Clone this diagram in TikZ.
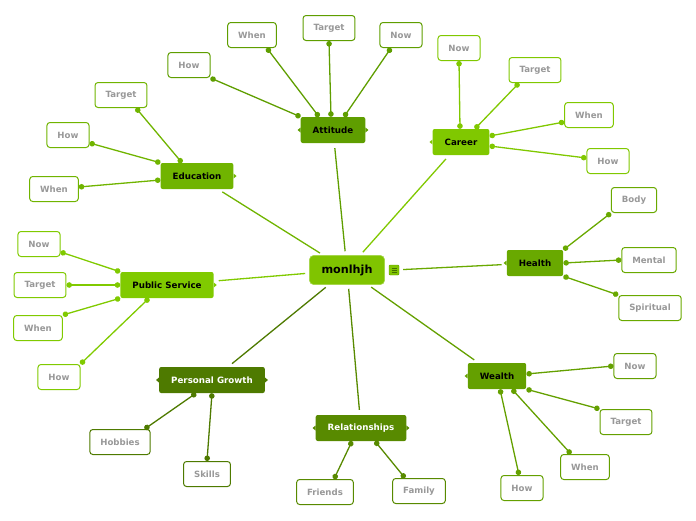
\documentclass[tikz,border=0pt]{standalone}
\usepackage{fontspec}
\setmainfont{DejaVu Sans}
\usepackage{tikz}
\usetikzlibrary{arrows.meta}

\definecolor{cmain}{HTML}{80C400}
\definecolor{catt}{HTML}{5F9E00}
\definecolor{ccar}{HTML}{80C800}
\definecolor{cedu}{HTML}{70B400}
\definecolor{cpub}{HTML}{80CA00}
\definecolor{chea}{HTML}{69A900}
\definecolor{cwea}{HTML}{64A000}
\definecolor{cpgr}{HTML}{4E7A00}
\definecolor{crel}{HTML}{588A00}
\definecolor{leafgrey}{HTML}{989898}

\tikzset{
  leaf/.style={draw=#1, line width=1pt, fill=white, rounded corners=3pt, text=leafgrey,
    font=\bfseries\fontsize{8.6}{10}\selectfont, inner xsep=10.5pt, inner ysep=0pt, minimum height=25pt},
  topic/.style={fill=#1, rounded corners=2pt, font=\bfseries\fontsize{8.7}{10}\selectfont,
    inner xsep=12pt, inner ysep=0pt, minimum height=26pt},
  branch/.style={draw=#1, line width=1.3pt, shorten <=4pt, shorten >=5pt},
  twig/.style={draw=#1, line width=1.3pt, {Circle[length=5.5pt]}-{Circle[length=5.5pt]}}
}
\newcommand\notchL[2]{\fill[#2] ([yshift=2.5pt]#1.west) -- ([xshift=-3pt]#1.west) -- ([yshift=-2.5pt]#1.west) -- cycle;}
\newcommand\notchR[2]{\fill[#2] ([yshift=2.5pt]#1.east) -- ([xshift=3pt]#1.east) -- ([yshift=-2.5pt]#1.east) -- cycle;}

\begin{document}
\begin{tikzpicture}[x=1pt,y=-1pt]
\useasboundingbox (0,0) rectangle (696,520);

% centre
\node[fill=cmain, draw=cmain!70!white, line width=0.6pt, rounded corners=4pt, font=\bfseries\fontsize{11.2}{13}\selectfont,
  minimum width=75pt, minimum height=29pt] (root) at (347,270) {monlhjh};
\node[fill=cmain, draw=catt, line width=0.4pt, rounded corners=1pt, minimum size=10pt, inner sep=0pt] (ic) at (394,270) {};
\foreach \dy in {-2,0,2} \draw[catt!70!black, line width=0.7pt] ([xshift=-2.5pt,yshift=\dy pt]ic.center) -- ([xshift=2.5pt,yshift=\dy pt]ic.center);

% topics
\node[topic=catt] (att) at (333,130) {Attitude};
\node[topic=ccar] (car) at (461,142) {Career};
\node[topic=cedu] (edu) at (197,176) {Education};
\node[topic=cpub] (pub) at (167,285) {Public Service};
\node[topic=chea] (hea) at (535,263) {Health};
\node[topic=cwea] (wea) at (497,376) {Wealth};
\node[topic=cpgr, text=white] (pgr) at (212,380) {Personal Growth};
\node[topic=crel, text=white] (rel) at (361,428) {Relationships};

\notchL{att}{catt} \notchR{att}{catt}
\notchL{car}{ccar}
\notchR{edu}{cedu}
\notchR{pub}{cpub}
\notchL{hea}{chea}
\notchL{wea}{cwea}
\notchL{pgr}{cpgr} \notchR{pgr}{cpgr}
\notchL{rel}{crel} \notchR{rel}{crel}

\draw[branch=catt] (root) -- (att);
\draw[branch=ccar] (root) -- (car);
\draw[branch=cedu] (root) -- (edu);
\draw[branch=cpub] (root) -- (pub);
\draw[branch=chea] (ic) -- (hea);
\draw[branch=cwea] (root) -- (wea);
\draw[branch=cpgr] (root) -- (pgr);
\draw[branch=crel] (root) -- (rel);

% attitude
\node[leaf=catt] (ahow) at (189,65) {How};
\node[leaf=catt] (awhen) at (252,35) {When};
\node[leaf=catt] (atar) at (329,28) {Target};
\node[leaf=catt] (anow) at (401,35) {Now};
\draw[twig=catt] (ahow.south east) -- (att.north west);
\draw[twig=catt] ([xshift=-10pt]awhen.south east) -- ([xshift=-14pt]att.north);
\draw[twig=catt] (atar.south) -- ([xshift=-2pt]att.north);
\draw[twig=catt] ([xshift=-10pt]anow.south) -- ([xshift=11pt]att.north);

% career
\node[leaf=ccar] (cnow) at (459,48) {Now};
\node[leaf=ccar] (ctar) at (535,70) {Target};
\node[leaf=ccar] (cwhen) at (589,115) {When};
\node[leaf=ccar] (chow) at (608,161) {How};
\draw[twig=ccar] (cnow.south) -- ([xshift=-1pt]car.north);
\draw[twig=ccar] ([xshift=-16pt]ctar.south) -- ([xshift=14pt]car.north);
\draw[twig=ccar] ([yshift=-7pt]cwhen.west) -- ([yshift=6pt]car.east);
\draw[twig=ccar] ([yshift=3pt]chow.west) -- ([yshift=-4pt]car.east);

% education
\node[leaf=cedu] (etar) at (121,95) {Target};
\node[leaf=cedu] (ehow) at (68,135) {How};
\node[leaf=cedu] (ewhen) at (54,189) {When};
\draw[twig=cedu] ([xshift=15pt]etar.south) -- ([xshift=-15pt]edu.north);
\draw[twig=cedu] ([yshift=-8pt]ehow.east) -- (edu.north west);
\draw[twig=cedu] ([yshift=2pt]ewhen.east) -- ([yshift=-4pt]edu.west);

% public service
\node[leaf=cpub] (pnow) at (39,244) {Now};
\node[leaf=cpub] (ptar) at (40,285) {Target};
\node[leaf=cpub] (pwhen) at (38,328) {When};
\node[leaf=cpub] (phow) at (59,377) {How};
\draw[twig=cpub] ([yshift=-8pt]pnow.east) -- (pub.north west);
\draw[twig=cpub] (ptar.east) -- (pub.west);
\draw[twig=cpub] (pwhen.north east) -- (pub.south west);
\draw[twig=cpub] (phow.north east) -- ([xshift=-18pt]pub.south);

% health
\node[leaf=chea] (hbody) at (634,200) {Body};
\node[leaf=chea] (hment) at (649,260) {Mental};
\node[leaf=chea] (hspir) at (650,308) {Spiritual};
\draw[twig=chea] (hbody.south west) -- (hea.north east);
\draw[twig=chea] (hment.west) -- (hea.east);
\draw[twig=chea] (hspir.north west) -- (hea.south east);

% wealth
\node[leaf=cwea] (wnow) at (635,366) {Now};
\node[leaf=cwea] (wtar) at (626,422) {Target};
\node[leaf=cwea] (wwhen) at (585,467) {When};
\node[leaf=cwea] (whow) at (522,488) {How};
\draw[twig=cwea] (wnow.west) -- ([yshift=2pt]wea.east);
\draw[twig=cwea] (wtar.north west) -- (wea.south east);
\draw[twig=cwea] ([xshift=-14pt]wwhen.north) -- ([xshift=15pt]wea.south);
\draw[twig=cwea] ([xshift=-3pt]whow.north) -- ([xshift=3pt]wea.south);

% personal growth
\node[leaf=cpgr] (hob) at (120,442) {Hobbies};
\node[leaf=cpgr] (skl) at (207,474) {Skills};
\draw[twig=cpgr] ([xshift=-6pt]hob.north east) -- ([xshift=-16pt]pgr.south);
\draw[twig=cpgr] (skl.north) -- (pgr.south);

% relationships
\node[leaf=crel] (fri) at (325,492) {Friends};
\node[leaf=crel] (fam) at (419,491) {Family};
\draw[twig=crel] ([xshift=9pt]fri.north) -- ([xshift=-9pt]rel.south);
\draw[twig=crel] ([xshift=-14pt]fam.north) -- ([xshift=14pt]rel.south);
\end{tikzpicture}
\end{document}
